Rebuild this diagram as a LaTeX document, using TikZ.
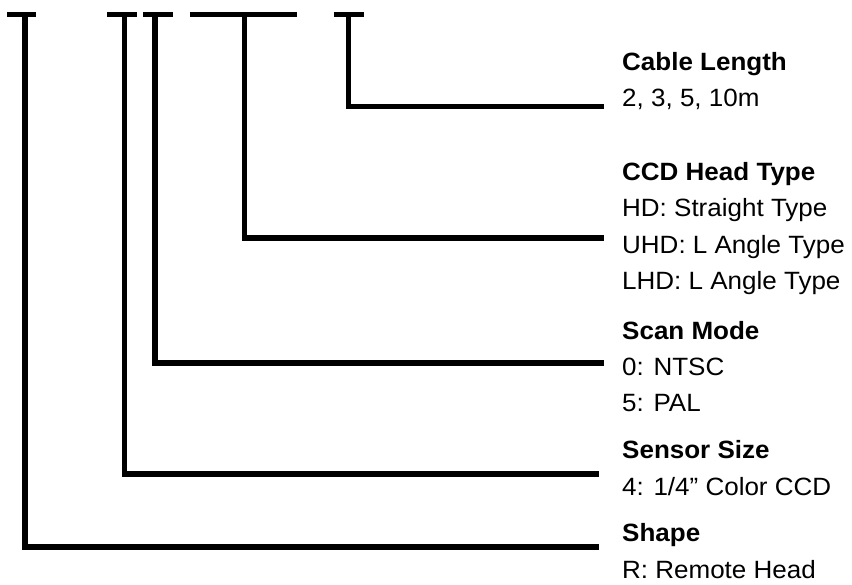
\documentclass[tikz,border=0pt]{standalone}
\usepackage{fontspec}
\setmainfont[FakeStretch=1.04]{Liberation Sans}
\usetikzlibrary{positioning}

\begin{document}
\begin{tikzpicture}[x=1pt,y=-1pt,
    digit/.style={line width=5.5pt},
    lead/.style={line width=5.5pt},
    field/.style={anchor=base west,align=left,inner sep=0pt,
      font=\fontsize{25}{36.5}\selectfont}
  ]
    \useasboundingbox (0,0) rectangle (852,585);

    % code positions along the top
    \foreach \name/\xa/\xb/\xs in {shp/7/36/25,siz/107/137/124.5,scn/143/173/155,
        hd/190/297/244.5,cbl/334/364/348.5}{
      \draw[digit] (\xa,14.5) -- (\xb,14.5);
      \coordinate (\name) at (\xs,14.5);
    }

    % base anchor sits on the last line of each block
    \node[field] (cbltxt) at (622,106.7) {\textbf{Cable Length}\\2, 3, 5, 10m};
    \node[field] (hdtxt) at (622,290) {\textbf{CCD Head Type}\\HD: Straight Type\\
      UHD: L Angle Type\\LHD: L Angle Type};
    \node[field] (scntxt) at (622,412) {\textbf{Scan Mode}\\0: NTSC\\5: PAL};
    \node[field] (siztxt) at (622,495) {\textbf{Sensor Size}\\4: 1/4” Color CCD};
    \node[field] (shptxt) at (622,578) {\textbf{Shape}\\R: Remote Head};

    \coordinate (cblend) at (604,106.5);
    \coordinate (hdend) at (604,238);
    \coordinate (scnend) at (604,363);
    \coordinate (sizend) at (599,474);
    \coordinate (shpend) at (599,547);

    \draw[lead] (cbl) |- (cblend);
    \draw[lead] (hd) |- (hdend);
    \draw[lead] (scn) |- (scnend);
    \draw[lead] (siz) |- (sizend);
    \draw[lead] (shp) |- (shpend);
  \end{tikzpicture}
\end{document}
